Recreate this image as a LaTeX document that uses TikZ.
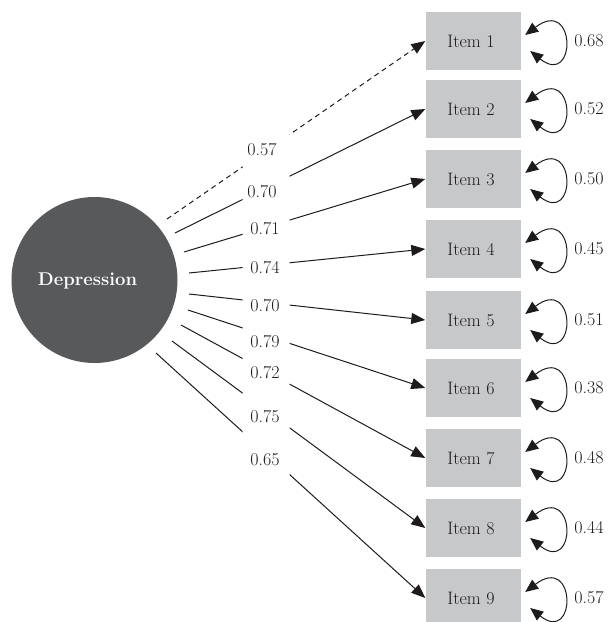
\documentclass[tikz,border=0pt]{standalone}
\usetikzlibrary{arrows.meta}
\definecolor{circ}{RGB}{88,89,91}
\definecolor{boxg}{RGB}{199,200,202}
\definecolor{ink}{RGB}{30,27,28}
\begin{document}
\begin{tikzpicture}[x=1pt,y=-1pt,
  itembox/.style={rectangle, fill=boxg, minimum width=95pt, minimum height=58pt, inner sep=0pt, text=ink, font=\fontsize{18}{22}\selectfont},
  lbl/.style={inner sep=0pt, text=ink, font=\fontsize{18}{22}\selectfont},
  arr/.style={draw=ink, line width=1pt, -{Triangle[length=14pt,width=11pt]}},
  dbl/.style={draw=ink, line width=1pt, {Triangle[length=13pt,width=11pt]}-{Triangle[length=13pt,width=11pt]}},
  dsh/.style={dash pattern=on 5pt off 4pt}]
\useasboundingbox (0,0) rectangle (611,622);
\node[circle, fill=circ, minimum size=166pt, inner sep=0pt] (dep) at (94.5,280) {};
\node[text=white, inner sep=0pt, font=\fontsize{18.5}{22}\selectfont\bfseries] (deptxt) at ([xshift=-7pt,yshift=-1pt]dep.center) {Depression};
\foreach \i/\y in {1/41,2/109,3/179,4/249,5/320,6/388,7/458,8/528,9/598}
  \node[itembox] (i\i) at (473,\y) {\hspace*{-4pt}Item \i};
\foreach \i/\v in {1/0.68,2/0.52,3/0.50,4/0.45,5/0.51,6/0.38,7/0.48,8/0.44,9/0.57}{
  \draw[dbl] ([shift={(4.5,-6)}]i\i.east) .. controls ([shift={(56,-45)}]i\i.east) and ([shift={(56,47)}]i\i.east) .. ([shift={(9.5,10)}]i\i.east);
  \node[lbl, anchor=west] (v\i) at ([xshift=53.5pt]i\i.east) {\v};
}
\begin{scope}
  \clip (0,0) rectangle (242.5,622) (289.5,0) rectangle (611,622);
  \foreach \i/\dx/\dy/\st in {1/72.5/-61/dsh, 2/80.5/-47/solid, 3/89.5/-28/solid,
      4/94.5/-7/solid, 5/94.5/14/solid, 6/93.5/30/solid, 7/86.5/45/solid,
      8/77.5/61/solid, 9/61.5/73/solid}{
    \coordinate (s\i) at ([shift={(\dx,\dy)}]dep.center);
    \draw[arr,\st] (s\i) -- (i\i.west);
  }
\end{scope}
\foreach \t/\x/\y [count=\k] in {0.57/262/150, 0.70/262/192, 0.71/265/229, 0.74/265/268,
    0.70/265/306, 0.79/265/342, 0.72/265/373, 0.75/265/417, 0.65/265/460}
  \node[lbl] (w\k) at (\x,\y) {\t};
\end{tikzpicture}
\end{document}
